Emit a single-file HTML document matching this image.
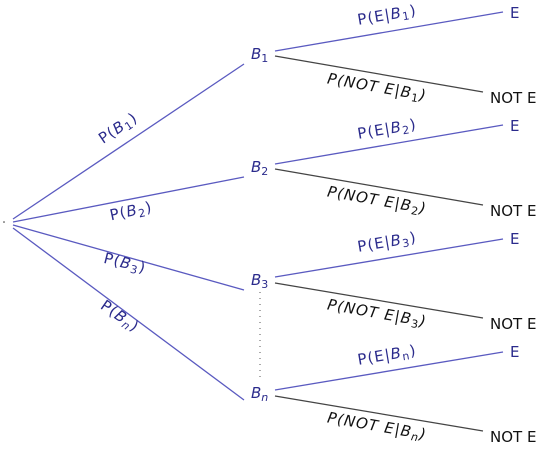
<!DOCTYPE html>
<html><head><meta charset="utf-8"><style>
html,body{margin:0;padding:0;background:#fff;width:548px;height:450px;overflow:hidden}
svg{display:block}
text{font-family:"DejaVu Sans","Liberation Sans",sans-serif;font-size:15px}
.b{fill:#2b2b8c}.k{fill:#111}
.i{font-style:italic}
.s{font-size:11px}
.sp{letter-spacing:1px}
</style></head><body>
<svg width="548" height="450" viewBox="0 0 548 450" xmlns="http://www.w3.org/2000/svg">
<circle cx="4" cy="222" r="0.8" fill="#333"/>
<g stroke="#5a5ac0" stroke-width="1.3" fill="none">
<line x1="13" y1="219" x2="244" y2="64"/>
<line x1="13" y1="222" x2="244" y2="177"/>
<line x1="13" y1="225" x2="244" y2="290"/>
<line x1="13" y1="228" x2="244" y2="400"/>
<line x1="275" y1="51" x2="503" y2="12"/>
<line x1="275" y1="164" x2="503" y2="125"/>
<line x1="275" y1="277" x2="503" y2="239"/>
<line x1="275" y1="390" x2="503" y2="352"/>
</g>
<g stroke="#444" stroke-width="1.2" fill="none">
<line x1="275" y1="56" x2="483" y2="92"/>
<line x1="275" y1="169" x2="483" y2="205"/>
<line x1="275" y1="283" x2="483" y2="318"/>
<line x1="275" y1="396" x2="483" y2="431"/>
</g>
<line x1="260" y1="292" x2="260" y2="382" stroke="#555" stroke-width="1" stroke-dasharray="1,5"/>

<g class="b">
<text x="251" y="59" class="i">B<tspan class="s" dy="3" font-style="normal">1</tspan></text>
<text x="251" y="172" class="i">B<tspan class="s" dy="3" font-style="normal">2</tspan></text>
<text x="251" y="285" class="i">B<tspan class="s" dy="3" font-style="normal">3</tspan></text>
<text x="251" y="398" class="i">B<tspan class="s" dy="3">n</tspan></text>
<text x="510" y="18">E</text>
<text x="510" y="131">E</text>
<text x="510" y="244">E</text>
<text x="510" y="357">E</text>

<text class="sp" transform="translate(118,128) rotate(-34)" text-anchor="middle" dy="5">P(<tspan class="i">B</tspan><tspan class="s" dy="3">1</tspan><tspan dy="-3">)</tspan></text>
<text class="sp" transform="translate(131,211) rotate(-12)" text-anchor="middle" dy="5">P(<tspan class="i">B</tspan><tspan class="s" dy="3">2</tspan><tspan dy="-3">)</tspan></text>
<text class="sp" transform="translate(125,263) rotate(14)" text-anchor="middle" dy="5">P(<tspan class="i">B</tspan><tspan class="s" dy="3">3</tspan><tspan dy="-3">)</tspan></text>
<text class="sp" transform="translate(120,316) rotate(35)" text-anchor="middle" dy="5">P(<tspan class="i">B</tspan><tspan class="s i" dy="3">n</tspan><tspan dy="-3">)</tspan></text>

<text class="sp" transform="translate(387,15) rotate(-9.5)" text-anchor="middle" dy="5">P(E|<tspan class="i">B</tspan><tspan class="s" dy="3">1</tspan><tspan dy="-3">)</tspan></text>
<text class="sp" transform="translate(387,129) rotate(-9.5)" text-anchor="middle" dy="5">P(E|<tspan class="i">B</tspan><tspan class="s" dy="3">2</tspan><tspan dy="-3">)</tspan></text>
<text class="sp" transform="translate(387,242) rotate(-9.5)" text-anchor="middle" dy="5">P(E|<tspan class="i">B</tspan><tspan class="s" dy="3">3</tspan><tspan dy="-3">)</tspan></text>
<text class="sp" transform="translate(387,355) rotate(-9.5)" text-anchor="middle" dy="5">P(E|<tspan class="i">B</tspan><tspan class="s" dy="3">n</tspan><tspan dy="-3">)</tspan></text>
</g>
<g class="k">
<text x="490" y="103">NOT E</text>
<text x="490" y="216">NOT E</text>
<text x="490" y="329">NOT E</text>
<text x="490" y="442">NOT E</text>
<text class="i sp" transform="translate(377,87) rotate(10)" text-anchor="middle" dy="5">P(NOT E|B<tspan class="s" dy="3" font-style="normal">1</tspan><tspan dy="-3">)</tspan></text>
<text class="i sp" transform="translate(377,200) rotate(10)" text-anchor="middle" dy="5">P(NOT E|B<tspan class="s" dy="3" font-style="normal">2</tspan><tspan dy="-3">)</tspan></text>
<text class="i sp" transform="translate(377,313) rotate(10)" text-anchor="middle" dy="5">P(NOT E|B<tspan class="s" dy="3" font-style="normal">3</tspan><tspan dy="-3">)</tspan></text>
<text class="i sp" transform="translate(377,426) rotate(10)" text-anchor="middle" dy="5">P(NOT E|B<tspan class="s" dy="3">n</tspan><tspan dy="-3">)</tspan></text>
</g>
</svg>
</body></html>
